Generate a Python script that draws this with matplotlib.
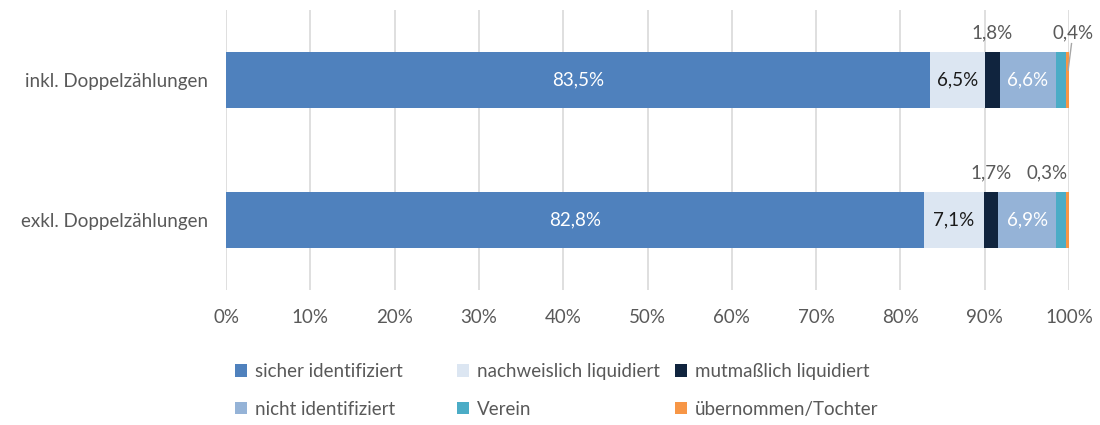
import matplotlib.pyplot as plt
from matplotlib.patches import Patch

plt.rcParams['font.family'] = ['Lato', 'DejaVu Sans']

categories = ['inkl. Doppelzählungen', 'exkl. Doppelzählungen']
series = ['sicher identifiziert', 'nachweislich liquidiert', 'mutmaßlich liquidiert',
          'nicht identifiziert', 'Verein', 'übernommen/Tochter']
values = {
    'sicher identifiziert': [83.5, 82.8],
    'nachweislich liquidiert': [6.5, 7.1],
    'mutmaßlich liquidiert': [1.8, 1.7],
    'nicht identifiziert': [6.6, 6.9],
    'Verein': [1.2, 1.2],
    'übernommen/Tochter': [0.4, 0.3],
}
colors = ['#4f81bd', '#dce6f2', '#10243e', '#95b3d7', '#4bacc6', '#f79646']
xticks = [0, 10, 20, 30, 40, 50, 60, 70, 80, 90, 100]

grey = '#595959'
fig = plt.figure(figsize=(11, 4.25), dpi=100)
ax = fig.add_axes([226 / 1100, 1 - 290 / 425, 843 / 1100, 280 / 425])

ypos = [0, 1]
left = [0.0, 0.0]
segs = {}
for name, col in zip(series, colors):
    vals = values[name]
    ax.barh(ypos, vals, left=left, height=0.4, color=col, zorder=2)
    segs[name] = [(l, v) for l, v in zip(left, vals)]
    left = [l + v for l, v in zip(left, vals)]

def fmt(v):
    return f'{v:.1f}%'.replace('.', ',')

# labels inside the segments
inside = {'sicher identifiziert': 'white', 'nachweislich liquidiert': '#1a1a1a',
          'nicht identifiziert': 'white'}
for name, tc in inside.items():
    for y, (l, v) in zip(ypos, segs[name]):
        ax.text(l + v / 2, y, fmt(v), ha='center', va='center', color=tc, fontsize=13.5)

# small segments get their labels above the bar
for y, (l, v) in zip(ypos, segs['mutmaßlich liquidiert']):
    ax.text(l + v / 2, y - 0.34, fmt(v), ha='center', va='center', color=grey, fontsize=13.5)

l0, v0 = segs['übernommen/Tochter'][0]
ax.text(l0 + 0.9, -0.34, fmt(v0), ha='center', va='center', color=grey, fontsize=13.5)
ax.plot([l0 + v0 / 2 + 0.1, l0 + 0.7], [-0.07, -0.26], color='#a6a6a6', lw=1,
        zorder=3, clip_on=False)
l1, v1 = segs['übernommen/Tochter'][1]
ax.text(l1 - 2.3, 1 - 0.34, fmt(v1), ha='center', va='center', color=grey, fontsize=13.5)

ax.set_xlim(0, 100)
ax.set_ylim(1.5, -0.5)
ax.set_xticks(xticks)
ax.set_xticklabels([f'{t}%' for t in xticks])
ax.set_yticks(ypos)
ax.set_yticklabels(categories)
ax.tick_params(axis='both', length=0, colors=grey, labelsize=13.5)
ax.tick_params(axis='x', pad=14)
ax.tick_params(axis='y', pad=13)
ax.grid(axis='x', color='#d9d9d9', lw=1.2, zorder=0)
for s in ax.spines.values():
    s.set_visible(False)

# legend: three columns of two entries, placed side by side
columns = [[0, 3], [1, 4], [2, 5]]
col_x = [235, 457, 675]
for idx, x in zip(columns, col_x):
    handles = [Patch(facecolor=colors[i], label=series[i]) for i in idx]
    leg = fig.legend(handles=handles, loc='upper left', bbox_to_anchor=(x / 1100, 1 - 363 / 425),
                     ncol=1, frameon=False, fontsize=13.5, handlelength=0.65,
                     handleheight=0.65, handletextpad=0.4, labelspacing=1.1,
                     borderpad=0, borderaxespad=0)
    for t in leg.get_texts():
        t.set_color(grey)

fig.savefig('out.png', dpi=100)
